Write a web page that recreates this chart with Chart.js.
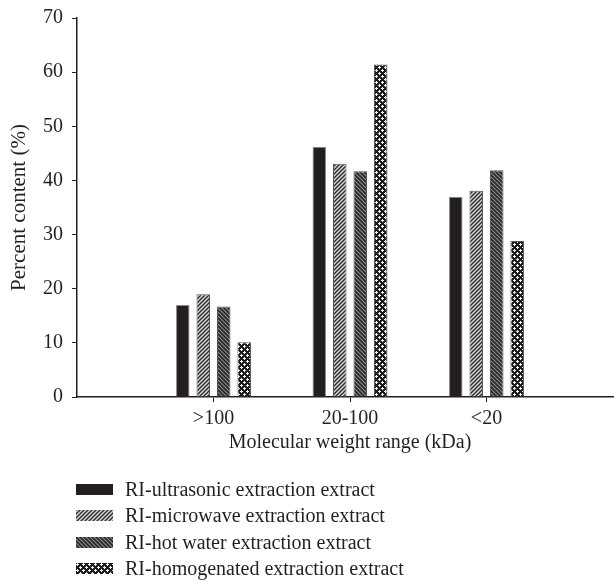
<!DOCTYPE html>
<html>
<head>
<meta charset="utf-8">
<script src="https://cdn.jsdelivr.net/npm/chart.js@4.4.1/dist/chart.umd.min.js"></script>
<style>
  html, body { margin: 0; background: #fff; overflow: hidden; }
  #wrap { position: relative; width: 614px; height: 580px; overflow: hidden; }
  #legend { position: absolute; left: 76px; top: 476px; font-family: "Liberation Serif", serif; font-size: 20px; color: #231f20; }
  .item { height: 26.5px; display: flex; align-items: center; }
  .item canvas { margin-right: 12px; }
</style>
</head>
<body>
<div id="wrap">
  <canvas id="grafico" width="628" height="455"></canvas>
  <div id="legend"></div>
</div>
<script>
// Datos
const categorias = ['>100', '20-100', '<20'];
const ultrasonido = [17.0, 46.2, 37.0];
const microondas = [19.0, 43.1, 38.1];
const aguaCaliente = [16.7, 41.7, 41.9];
const homogeneizado = [10.1, 61.4, 28.8];
const nombres = [
  'RI-ultrasonic extraction extract',
  'RI-microwave extraction extract',
  'RI-hot water extraction extract',
  'RI-homogenated extraction extract'
];
const yTicks = [0, 10, 20, 30, 40, 50, 60, 70];

const tinta = '#231f20';
const fuente = { family: '"Liberation Serif", serif', size: 20 };

// Crear un patrón de relleno para cada serie
function hacerPatron(ctx, tipo) {
  const c = document.createElement('canvas');
  const g = c.getContext('2d');
  if (tipo === 'solido') {
    c.width = c.height = 4;
    g.fillStyle = tinta;
    g.fillRect(0, 0, 4, 4);
  } else if (tipo === 'rayas' || tipo === 'rayasOscuras') {
    c.width = c.height = 4;
    g.fillStyle = tipo === 'rayas' ? '#d4d4d4' : '#8c8c8c';
    g.fillRect(0, 0, 4, 4);
    g.strokeStyle = tipo === 'rayas' ? '#2a2a2a' : '#262626';
    g.lineWidth = tipo === 'rayas' ? 1.3 : 1.6;
    g.beginPath();
    if (tipo === 'rayas') {
      g.moveTo(-1, 5); g.lineTo(5, -1);
      g.moveTo(-1, 1); g.lineTo(1, -1);
      g.moveTo(3, 5); g.lineTo(5, 3);
    } else {
      g.moveTo(-1, -1); g.lineTo(5, 5);
      g.moveTo(3, -1); g.lineTo(5, 1);
      g.moveTo(-1, 3); g.lineTo(1, 5);
    }
    g.stroke();
  } else {
    // fondo negro con pequeñas cruces blancas
    c.width = c.height = 6;
    g.fillStyle = '#1e1b1c';
    g.fillRect(0, 0, 6, 6);
    g.fillStyle = '#f2f2f2';
    [[1, 1], [4, 4]].forEach(([x, y]) => {
      g.fillRect(x, y - 1, 1, 3);
      g.fillRect(x - 1, y, 3, 1);
    });
  }
  return ctx.createPattern(c, 'repeat');
}

const tipos = ['solido', 'rayas', 'rayasOscuras', 'puntos'];
const series = [ultrasonido, microondas, aguaCaliente, homogeneizado];

const ctx = document.getElementById('grafico').getContext('2d');
const etiquetas = ['', ...categorias, ''];

// Ocultar las marcas de las categorías vacías de los extremos
const colorMarca = c => (c.index === 0 || c.index === etiquetas.length - 1) ? 'rgba(0,0,0,0)' : tinta;

const grafico = new Chart(ctx, {
  type: 'bar',
  data: {
    labels: etiquetas,
    datasets: series.map((valores, i) => ({
      label: nombres[i],
      data: [null, ...valores, null],
      backgroundColor: hacerPatron(ctx, tipos[i]),
      borderColor: i === 0 ? '#8a8a8a' : '#555',
      borderWidth: 1,
      categoryPercentage: 0.6,
      barPercentage: 0.66
    }))
  },
  options: {
    responsive: false,
    animation: false,
    layout: { padding: { top: 18, right: 0, left: 0, bottom: 0 } },
    plugins: { legend: { display: false }, tooltip: { enabled: false } },
    scales: {
      x: {
        offset: false,
        grid: { offset: false, drawOnChartArea: false, tickLength: 5, color: colorMarca },
        border: { color: tinta, width: 1.5 },
        ticks: { font: fuente, color: tinta, padding: 5, maxRotation: 0, autoSkip: false },
        title: { display: true, text: 'Molecular weight range (kDa)', font: fuente, color: tinta, padding: { top: 0, bottom: 0 } },
        afterFit: s => { s.height = 58; }
      },
      y: {
        min: 0,
        max: 70,
        afterBuildTicks: s => { s.ticks = yTicks.map(v => ({ value: v })); },
        grid: { drawOnChartArea: false, tickLength: 5, color: tinta },
        border: { color: tinta, width: 1.5 },
        ticks: { font: { family: fuente.family, size: 20, lineHeight: 0.9 }, color: tinta, padding: 9 },
        title: { display: true, text: 'Percent content (%)', font: { family: fuente.family, size: 21 }, color: tinta, padding: { top: 7, bottom: 0 } },
        afterFit: s => { s.width = 77; }
      }
    }
  }
});

// Leyenda vertical en HTML
const leyenda = document.getElementById('legend');
grafico.data.datasets.forEach((ds, i) => {
  const fila = document.createElement('div');
  fila.className = 'item';
  const muestra = document.createElement('canvas');
  muestra.width = 37;
  muestra.height = 11;
  const mc = muestra.getContext('2d');
  mc.fillStyle = hacerPatron(mc, tipos[i]);
  mc.fillRect(0, 0, 37, 11);
  const texto = document.createElement('span');
  texto.textContent = ds.label;
  fila.appendChild(muestra);
  fila.appendChild(texto);
  leyenda.appendChild(fila);
});
</script>
</body>
</html>
